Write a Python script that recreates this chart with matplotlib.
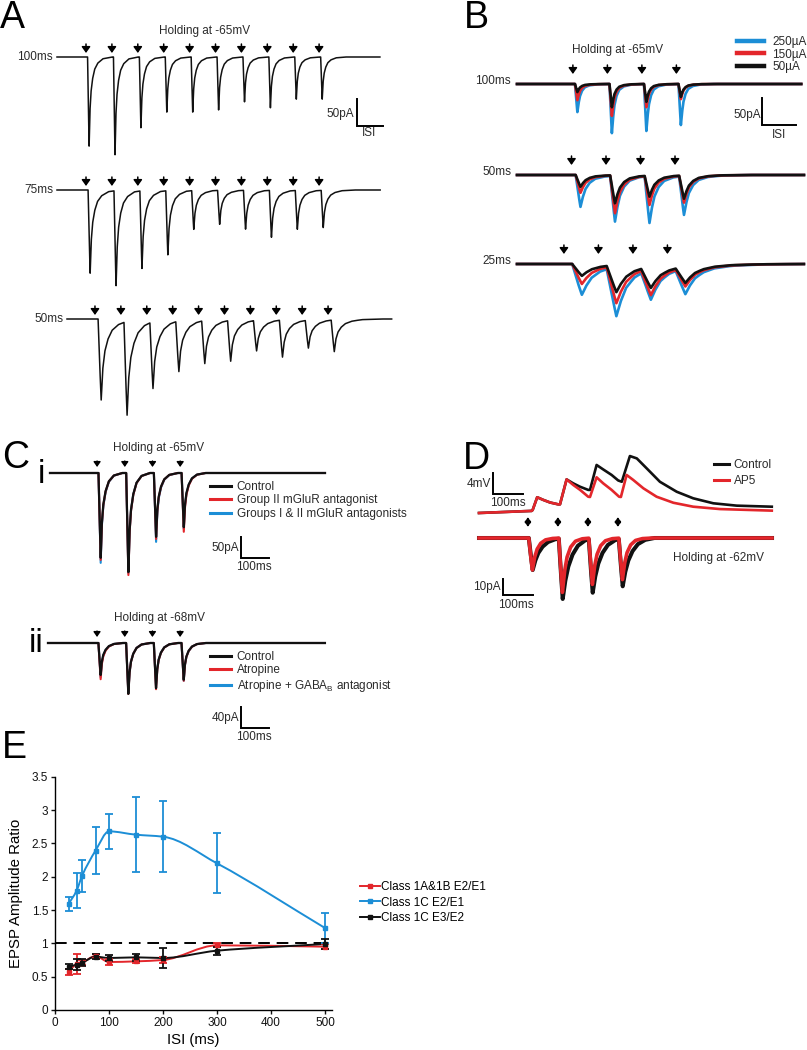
import numpy as np
import matplotlib
matplotlib.use('Agg')
import matplotlib.pyplot as plt
import matplotlib.transforms as mtransforms
from matplotlib.lines import Line2D
from matplotlib.path import Path
from matplotlib.patches import PathPatch

plt.rcParams['font.family'] = ['Liberation Sans', 'DejaVu Sans']
plt.rcParams['mathtext.fontset'] = 'custom'
plt.rcParams['mathtext.rm'] = 'Liberation Sans'

RED = '#e3262b'
BLUE = '#1c8ed6'
BLK = '#111111'
TXT = '#2a2a2a'

# ---------------- data ----------------
# A: 10 pulses, EPSC peak amplitudes (pA)
a_isi = [100, 75, 50]
a_first_stim = [112, 84, 54]          # ms from trace start
a_duration = [1247, 936, 627]
a_amps = [
    [165, 181, 131, 102, 102, 98, 83, 94, 78, 78],
    [154, 176, 144, 119, 72, 63, 72, 87, 72, 69],
    [150, 174, 124, 94, 80, 76, 57, 69, 52, 59],
]
a_labels = ['100ms', '75ms', '50ms']

# B: 4 pulses at three stimulus intensities (pA)
b_isi = [100, 50, 25]
b_first_stim = [164, 81, 36]
b_duration = [824, 416, 208]
b_labels = ['100ms', '50ms', '25ms']
b_intensity = ['250µA', '150µA', '50µA']
b_amps = {
    '250µA': [[52, 91, 87, 76], [59, 85, 87, 72], [57, 91, 56, 48]],
    '150µA': [[30, 59, 43, 28], [33, 70, 54, 50], [37, 69, 50, 35]],
    '50µA':  [[15, 43, 33, 24], [22, 52, 39, 43], [22, 50, 39, 30]],
}

# C: 4 pulses, 100 ms ISI (pA)
c_isi = 100
ci_first, cii_first = 170, 177
ci_amps = {'Control': [202, 236, 152, 129],
           'Group II mGluR antagonist': [207, 243, 157, 140],
           'Groups I & II mGluR antagonists': [214, 238, 164, 133]}
cii_amps = {'Control': [61, 97, 86, 70],
            'Atropine': [69, 97, 88, 72],
            'Atropine + GABA$_{\\rm B}$ antagonist': [65, 95, 85, 72]}

# D: EPSPs (ms, mV)
d_ctrl_t = [0, 176, 179, 194, 214, 237, 264, 270, 292, 314, 337, 364, 370, 392, 414, 442,
            464, 476, 503, 526, 559, 603, 659, 714, 781, 859, 976]
d_ctrl_v = [0.0, 0.4, 0.6, 3.0, 2.5, 2.0, 1.65, 1.65, 6.4, 5.65, 5.0, 4.4, 4.4, 9.15, 8.3, 7.25,
            6.2, 5.95, 10.85, 10.4, 8.5, 5.95, 4.05, 2.8, 1.85, 1.4, 1.2]
d_ap5_t = [0, 176, 179, 194, 214, 237, 264, 270, 292, 314, 337, 364, 370, 392, 414, 442,
           467, 473, 492, 514, 548, 592, 648, 714, 803, 976]
d_ap5_v = [0.0, 0.4, 0.6, 3.0, 2.5, 2.0, 1.65, 1.65, 6.4, 5.35, 4.4, 3.1, 3.05, 6.8, 5.65, 4.4,
           3.1, 3.05, 7.25, 6.3, 4.7, 3.1, 1.95, 1.2, 0.75, 0.45]
d_isi = 100
d_first = 163
d_cur_amps = {'Control': [20, 38, 34, 30], 'AP5': [20, 34, 29, 26]}

# E: paired-pulse ratios
e_isi = [25, 40, 50, 75, 100, 150, 200, 300, 500]
e_series = ['Class 1A&1B E2/E1', 'Class 1C E2/E1', 'Class 1C E3/E2']
e_mean = {
    'Class 1A&1B E2/E1': [0.57, 0.69, 0.71, 0.81, 0.72, 0.73, 0.75, 0.97, 0.95],
    'Class 1C E2/E1': [1.59, 1.79, 2.01, 2.39, 2.68, 2.63, 2.60, 2.20, 1.23],
    'Class 1C E3/E2': [0.65, 0.68, 0.71, 0.80, 0.78, 0.79, 0.78, 0.89, 0.99],
}
e_err = {
    'Class 1A&1B E2/E1': [0.04, 0.15, 0.04, 0.03, 0.05, 0.03, 0.05, 0.03, 0.04],
    'Class 1C E2/E1': [0.11, 0.26, 0.24, 0.35, 0.26, 0.56, 0.53, 0.45, 0.22],
    'Class 1C E3/E2': [0.04, 0.08, 0.05, 0.04, 0.04, 0.05, 0.15, 0.06, 0.07],
}

# EPSC waveform shapes (ms after stimulus, fraction of peak)
kA_t = [0, 6, 9, 12, 15, 19, 25, 33, 45, 65, 100]
kA_f = [0, 0, 0.55, 1.0, 0.62, 0.4, 0.25, 0.14, 0.07, 0.02, 0]
kB_t = [0, 4, 8, 11, 14, 18, 24, 32, 45, 65, 100]
kB_f = [0, 0, 0.6, 1.0, 0.72, 0.45, 0.25, 0.12, 0.05, 0.015, 0]
kC_t = [0, 5, 9, 13, 17, 22, 30, 42, 60, 90]
kC_f = [0, 0, 0.5, 1.0, 0.6, 0.38, 0.22, 0.1, 0.03, 0]
kDr_t = [0, 3, 9, 15, 22, 30, 42, 58, 80, 110]
kDr_f = [0, 0, 0.55, 1.0, 0.62, 0.36, 0.17, 0.06, 0.015, 0]
kDb_t = [0, 3, 9, 16, 24, 34, 48, 66, 90, 120]
kDb_f = [0, 0, 0.5, 1.0, 0.72, 0.48, 0.28, 0.13, 0.04, 0]

# ---------------- helpers ----------------
W, H = 807, 1050
fig = plt.figure(figsize=(W / 100, H / 100), dpi=100)


def trace_axes(x0, x1, y_top, y_bot, y_base, px_x, px_y):
    ax = fig.add_axes([x0 / W, 1 - y_bot / H, (x1 - x0) / W, (y_bot - y_top) / H])
    ax.set_xlim(0, (x1 - x0) / px_x)
    ax.set_ylim(-(y_bot - y_base) / px_y, (y_base - y_top) / px_y)
    ax.set_axis_off()
    return ax


def build_trace(t_end, stims, amps, k_t, k_f, step=0.25):
    t = np.arange(0, t_end, step)
    y = np.zeros_like(t)
    for s, a in zip(stims, amps):
        y -= a * np.interp(t - s, k_t, k_f, left=0, right=0)
    return t, y


def stim_arrows(ax, times, gap, length, style, scale, lw=1.1):
    tr = mtransforms.offset_copy(ax.transData, fig=fig, x=0, y=gap, units='dots')
    for t in times:
        ax.annotate('', xy=(t, 0), xycoords=tr, xytext=(0, length),
                    textcoords='offset pixels', annotation_clip=False,
                    arrowprops=dict(arrowstyle=style, color='black', lw=lw,
                                    shrinkA=0, shrinkB=0, mutation_scale=scale))


def scale_bar(ax, x, y, dx, dy):
    ax.plot([x, x, x + dx], [y + dy, y, y], color='black', lw=1.4,
            solid_joinstyle='miter', clip_on=False)


def ftext(x, y, s, **kw):
    kw.setdefault('fontsize', 8.5)
    kw.setdefault('color', TXT)
    fig.text(x / W, 1 - y / H, s, **kw)


def add_legend(labels, colors, x, y, lw, hl, tp, ls, fs=8.5):
    handles = [Line2D([], [], color=c, lw=lw) for c in colors]
    leg = fig.legend(handles, labels, loc='upper left', bbox_to_anchor=(x / W, 1 - y / H),
                     frameon=False, fontsize=fs, handlelength=hl, handletextpad=tp,
                     labelspacing=ls, borderpad=0, borderaxespad=0)
    for t in leg.get_texts():
        t.set_color(TXT)
    return leg


def smooth_path(x, y):
    # monotone cubic (Fritsch-Carlson slopes) drawn as Bezier segments
    x = np.asarray(x, float)
    y = np.asarray(y, float)
    h = np.diff(x)
    d = np.diff(y) / h
    n = len(x)
    m = np.zeros(n)
    m[0], m[-1] = d[0], d[-1]
    for i in range(1, n - 1):
        if d[i - 1] * d[i] > 0:
            w1 = 2 * h[i] + h[i - 1]
            w2 = h[i] + 2 * h[i - 1]
            m[i] = (w1 + w2) / (w1 / d[i - 1] + w2 / d[i])
    verts = [(x[0], y[0])]
    codes = [Path.MOVETO]
    for i in range(n - 1):
        verts += [(x[i] + h[i] / 3, y[i] + m[i] * h[i] / 3),
                  (x[i + 1] - h[i] / 3, y[i + 1] - m[i + 1] * h[i] / 3),
                  (x[i + 1], y[i + 1])]
        codes += [Path.CURVE4] * 3
    return Path(verts, codes)


# ---------------- panel A ----------------
a_geom = [(57, 385, 35, 160, 57), (57, 385, 170, 290, 190), (67, 395, 300, 420, 319)]
a_px_per_isi = 25.9
for i in range(3):
    x0, x1, yt, yb, base = a_geom[i]
    pxm = a_px_per_isi / a_isi[i]
    ax = trace_axes(x0, x1, yt, yb, base, pxm, 0.54)
    stims = [a_first_stim[i] + k * a_isi[i] for k in range(10)]
    t, y = build_trace(a_duration[i], stims, a_amps[i], kA_t, kA_f)
    ax.plot(t, y, color=BLK, lw=1.1, clip_on=False)
    stim_arrows(ax, stims, 4, 9, '-|>,head_length=0.45,head_width=0.32', 8)
    if i == 0:
        scale_bar(ax, 1158, -127.8, a_isi[0], 50)
    ftext(x0 - 4, base, a_labels[i], ha='right', va='center')
ftext(205, 31, 'Holding at -65mV', ha='center', va='center')
ftext(354, 114, '50pA', ha='right', va='center')
ftext(369, 133, 'ISI', ha='center', va='center')

# ---------------- panel B ----------------
b_geom = [(60, 140, 84), (150, 232, 175), (240, 325, 264)]
b_colors = {'250µA': BLUE, '150µA': RED, '50µA': BLK}
for i in range(3):
    yt, yb, base = b_geom[i]
    pxm = 34.5 / b_isi[i]
    ax = trace_axes(517, 805, yt, yb, base, pxm, 0.54)
    stims = [b_first_stim[i] + k * b_isi[i] for k in range(4)]
    for key in b_intensity:
        t, y = build_trace(b_duration[i], stims, b_amps[key][i], kB_t, kB_f, step=0.1)
        ax.plot(t, y, color=b_colors[key], lw=1.9, clip_on=False)
    stim_arrows(ax, [s - 2 for s in stims], 10, 9, '-|>,head_length=0.45,head_width=0.32', 8)
    if i == 0:
        scale_bar(ax, 709, -75.9, b_isi[0], 50)
    ftext(511, base - 3, b_labels[i], ha='right', va='center')
ftext(618, 50, 'Holding at -65mV', ha='center', va='center')
ftext(761, 115, '50pA', ha='right', va='center')
ftext(779, 135, 'ISI', ha='center', va='center')
add_legend(b_intensity, [BLUE, RED, BLK], 737, 36, 3.2, 2.3, 0.7, 0.05)

# ---------------- panel C ----------------
c_colors = [BLK, RED, BLUE]
for geom, first, amps, hold, sb, lab in [
        ((50, 330, 455, 585, 473, 0.42), ci_first, ci_amps, ('Holding at -65mV', 448),
         (690, -202, 50), ('50pA', 548)),
        ((48, 330, 625, 745, 643, 0.525), cii_first, cii_amps, ('Holding at -68mV', 618),
         (697, -162, 40), ('40pA', 718))]:
    x0, x1, yt, yb, base, pxa = geom
    ax = trace_axes(x0, x1, yt, yb, base, 0.277, pxa)
    stims = [first + k * c_isi for k in range(4)]
    names = list(amps.keys())
    for name, col in list(zip(names, c_colors))[::-1]:
        t, y = build_trace((x1 - 5 - x0) / 0.277, stims, amps[name], kC_t, kC_f)
        ax.plot(t, y, color=col, lw=1.6 if col == BLK else 1.5, clip_on=False)
    stim_arrows(ax, stims, 6, 6, '-|>,head_length=0.5,head_width=0.35', 6, lw=1.0)
    scale_bar(ax, sb[0], sb[1], 100, sb[2])
    ftext(159, hold[1], hold[0], ha='center', va='center')
    ftext(239, lab[1], lab[0], ha='right', va='center')
    ftext(254, lab[1] + 19, '100ms', ha='center', va='center')
    add_legend(names, c_colors, 210, base + 8, 2.2, 1.8, 0.45, 0.12)

# ---------------- panel D ----------------
axv = trace_axes(479, 780, 440, 520, 513, 0.3, 5.25)
axv.plot(d_ctrl_t, d_ctrl_v, color=BLK, lw=1.9, clip_on=False)
axv.plot(d_ap5_t, d_ap5_v, color=RED, lw=1.9, clip_on=False)
scale_bar(axv, 47, 3.6, 100, 4)

axi = trace_axes(479, 780, 510, 615, 538, 0.3, 1.6)
d_stims = [d_first + k * d_isi for k in range(4)]
t, y = build_trace(977, d_stims, d_cur_amps['Control'], kDb_t, kDb_f)
axi.plot(t, y, color=BLK, lw=2.9, clip_on=False)
t, y = build_trace(977, d_stims, d_cur_amps['AP5'], kDr_t, kDr_f)
axi.plot(t, y, color=RED, lw=2.6, clip_on=False)
stim_arrows(axi, d_stims, 11, 10, '<|-|>,head_length=0.45,head_width=0.28', 6, lw=1.3)
scale_bar(axi, 80, -35.6, 100, 10)
ftext(491, 484, '4mV', ha='right', va='center')
ftext(508, 503, '100ms', ha='center', va='center')
ftext(501, 587, '10pA', ha='right', va='center')
ftext(516, 605, '100ms', ha='center', va='center')
ftext(673, 558, 'Holding at -62mV', ha='left', va='center')
add_legend(['Control', 'AP5'], [BLK, RED], 714, 459, 2.2, 1.3, 0.35, 0.35)

# ---------------- panel E ----------------
axe = fig.add_axes([55 / W, 1 - 1010 / H, 276.5 / W, 233.3 / H])
e_colors = {'Class 1A&1B E2/E1': RED, 'Class 1C E2/E1': BLUE, 'Class 1C E3/E2': BLK}
axe.axhline(1, xmin=0, xmax=500 / 512, color='black', lw=1.4, dashes=(6, 3.5), zorder=1)
for name in e_series:
    c = e_colors[name]
    axe.add_patch(PathPatch(smooth_path(e_isi, e_mean[name]), facecolor='none',
                            edgecolor=c, lw=1.4, zorder=2))
    axe.errorbar(e_isi, e_mean[name], yerr=e_err[name], fmt='s', color=c, ms=2.5,
                 elinewidth=1.3, capsize=2.6, capthick=1.3, zorder=3)
axe.set_xlim(0, 512)
axe.set_ylim(0, 3.5)
axe.set_xticks([0, 100, 200, 300, 400, 500])
axe.set_yticks([0, 0.5, 1, 1.5, 2, 2.5, 3, 3.5])
axe.set_yticklabels(['0', '0.5', '1', '1.5', '2', '2.5', '3', '3.5'])
axe.spines['top'].set_visible(False)
axe.spines['right'].set_visible(False)
for s in ['left', 'bottom']:
    axe.spines[s].set_linewidth(1.0)
axe.tick_params(direction='out', length=3, width=1, labelsize=8.5, pad=2, colors=BLK)
axe.set_xlabel('ISI (ms)', fontsize=10.8, labelpad=3)
axe.set_ylabel('EPSP Amplitude Ratio', fontsize=10.8, labelpad=6)
e_handles = [Line2D([], [], color=e_colors[n], lw=1.4, marker='s', ms=3) for n in e_series]
leg = fig.legend(e_handles, e_series, loc='upper left', bbox_to_anchor=(360 / W, 1 - 881 / H),
                 frameon=False, fontsize=8.5, handlelength=1.7, handletextpad=0.1,
                 labelspacing=0.3, borderpad=0, borderaxespad=0)

# ---------------- panel letters ----------------
for s, x, y in [('A', 0, 0), ('B', 464, 0), ('C', 2, 440), ('D', 463, 441), ('E', 2, 730)]:
    fig.text(x / W, 1 - y / H, s, fontsize=27, va='top', ha='left', color='black')
fig.text(38 / W, 1 - 459 / H, 'i', fontsize=24, va='top', ha='left', color='black')
fig.text(29 / W, 1 - 628 / H, 'ii', fontsize=24, va='top', ha='left', color='black')

fig.savefig('out.png', dpi=100)
